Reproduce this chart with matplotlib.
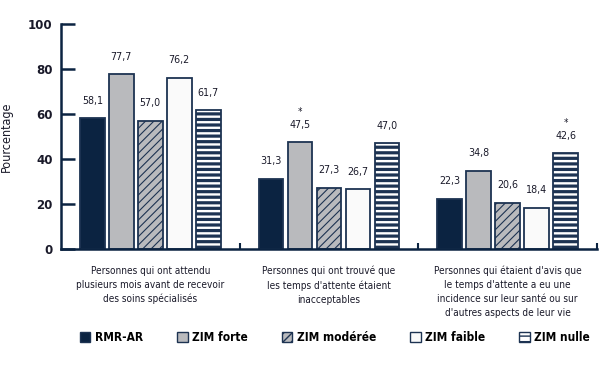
import matplotlib
matplotlib.use("Agg")
import matplotlib.pyplot as plt
import numpy as np
from matplotlib.patches import Patch
import matplotlib.transforms as mtransforms
from matplotlib import font_manager

names = {f.name for f in font_manager.fontManager.ttflist}
narrow = 'Liberation Sans Narrow' in names
if narrow:
    plt.rcParams['font.family'] = ['Liberation Sans Narrow', 'DejaVu Sans']
else:
    plt.rcParams['font.family'] = ['DejaVu Sans']
    plt.rcParams['font.stretch'] = 'condensed'

categories = [
    "Personnes qui ont attendu\nplusieurs mois avant de recevoir\ndes soins spécialisés",
    "Personnes qui ont trouvé que\nles temps d'attente étaient\ninacceptables",
    "Personnes qui étaient d'avis que\nle temps d'attente a eu une\nincidence sur leur santé ou sur\nd'autres aspects de leur vie",
]
series_names = ["RMR-AR", "ZIM forte", "ZIM modérée", "ZIM faible", "ZIM nulle"]
rmr_ar = [58.1, 31.3, 22.3]
zim_forte = [77.7, 47.5, 34.8]
zim_moderee = [57.0, 27.3, 20.6]
zim_faible = [76.2, 26.7, 18.4]
zim_nulle = [61.7, 47.0, 42.6]
significant = {(1, 1), (4, 2)}  # (series index, category index) marked with *
yticks = [0, 20, 40, 60, 80, 100]

values = [rmr_ar, zim_forte, zim_moderee, zim_faible, zim_nulle]
navy = "#0b2341"
edge = "#1d3352"
txt = "#1a1a2a"
styles = [
    dict(facecolor=navy, hatch=None, hlw=1.0),
    dict(facecolor="#b9babd", hatch=None, hlw=1.0),
    dict(facecolor="#b9babd", hatch="////", hlw=0.8),
    dict(facecolor="#fafafa", hatch=None, hlw=1.0),
    dict(facecolor="white", hatch="---", hlw=2.3),
]

sz = 1.0 if narrow else 0.9

fig = plt.figure(figsize=(6, 3.71), dpi=100)
ax = fig.add_axes([61/600, 1-249/371, 536/600, 225/371])

x = np.arange(len(categories))
step = 0.162
width = 0.138
for i, (vals, st) in enumerate(zip(values, styles)):
    with plt.rc_context({'hatch.linewidth': st['hlw'], 'hatch.color': '#3a5270'}):
        bars = ax.bar(x + (i - 2) * step, vals, width, facecolor=st['facecolor'],
                      edgecolor=edge, linewidth=1.3, hatch=st['hatch'], zorder=2)
    for j, b in enumerate(bars):
        if hasattr(b, 'set_hatch_linewidth'):
            b.set_hatch_linewidth(st['hlw'])
        xc = b.get_x() + b.get_width() / 2
        h = b.get_height()
        ax.annotate(f"{h:.1f}".replace('.', ','), (xc, h), xytext=(0, 12.5),
                    textcoords='offset points', ha='center', va='center',
                    fontsize=8.5 * sz, color=txt)
        if (i, j) in significant:
            ax.annotate("*", (xc, h), xytext=(0, 22),
                        textcoords='offset points', ha='center', va='center',
                        fontsize=7, color=txt)

ax.set_xlim(-0.5, 2.5)
ax.set_ylim(0, 100)
ax.set_yticks(yticks)
ax.set_yticklabels([str(t) for t in yticks], fontsize=10.5 * sz, fontweight='bold', color=txt)
ax.tick_params(axis='y', direction='in', length=10, width=1.8, color=navy, pad=6)
ax.set_xticks([0.5, 1.5, 2.5])
ax.set_xticklabels([])
ax.tick_params(axis='x', direction='in', length=4, width=1.5, color=navy)
for s in ['top', 'right']:
    ax.spines[s].set_visible(False)
for s in ['left', 'bottom']:
    ax.spines[s].set_linewidth(1.8)
    ax.spines[s].set_color(navy)
ax.set_ylabel("Pourcentage", fontsize=10 * sz, color=txt)
ax.yaxis.set_label_coords(-48/536, 0.5)

trans = mtransforms.blended_transform_factory(ax.transData, ax.transAxes)
for k, cat in enumerate(categories):
    ax.text(k, -0.075, cat, transform=trans, ha='center', va='top', fontsize=8 * sz,
            linespacing=1.45 if narrow else 1.47, color=txt)

handles = [Patch(facecolor=st['facecolor'], edgecolor=edge, hatch=st['hatch'], linewidth=1.0)
           for st in styles]
fig.legend(handles, series_names, loc='center', bbox_to_anchor=(75/600, 1-347/371, 520/600, 0.05),
           mode='expand', ncol=5, frameon=False, handlelength=0.9, handleheight=0.9,
           handletextpad=0.4, borderaxespad=0, prop={'weight': 'bold', 'size': 9.5 * sz})

fig.savefig("out.png", dpi=100)
